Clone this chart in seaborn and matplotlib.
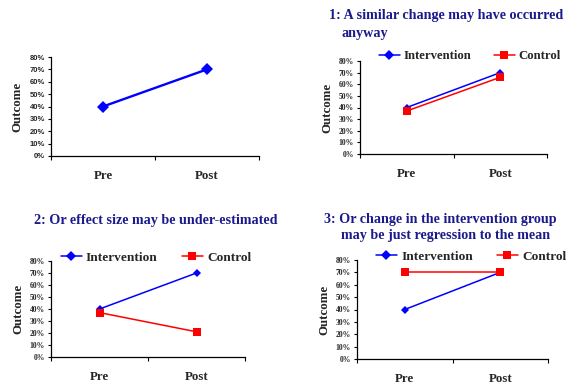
import matplotlib
matplotlib.use("Agg")
import matplotlib.pyplot as plt
import seaborn as sns
import pandas as pd
from matplotlib.ticker import FixedLocator, PercentFormatter

sns.set_theme(style="white")
plt.rcParams['font.family'] = ['Liberation Serif', 'DejaVu Serif']

times = ["Pre", "Post"]
groups = ["Intervention", "Control"]
p0_intervention = [40, 70]
p1_intervention = [40, 70]
p1_control = [37, 66]
p2_intervention = [40, 70]
p2_control = [37, 21]
p3_intervention = [40, 70]
p3_control = [70, 70]
yticks = [0, 10, 20, 30, 40, 50, 60, 70, 80]

titles = {
    1: ["1: A similar change may have occurred", "anyway"],
    2: ["2: Or effect size may be under-estimated"],
    3: ["3: Or change in the intervention group", "may be just regression to the mean"],
}

palette = {"Intervention": "#0000FF", "Control": "#FF0000"}
markers = {"Intervention": "D", "Control": "s"}
title_color = "#1a1a8c"

def make_df(series):
    rows = []
    for g, vals in series.items():
        for t, v in zip(times, vals):
            rows.append({"time": t, "value": v, "group": g})
    return pd.DataFrame(rows)

W, H = 568, 391
fig = plt.figure(figsize=(W / 100, H / 100), dpi=100)

def rect(l, r, t, b):
    return [l / W, 1 - b / H, (r - l) / W, (b - t) / H]

axes_rects = [
    rect(51, 259, 57, 156),
    rect(360, 547, 61, 154),
    rect(51, 245, 261, 357),
    rect(357, 548, 260, 359),
]
data_sets = [
    {"Intervention": p0_intervention},
    {"Intervention": p1_intervention, "Control": p1_control},
    {"Intervention": p2_intervention, "Control": p2_control},
    {"Intervention": p3_intervention, "Control": p3_control},
]
legend_pos = [None, (470, 56), (156, 258), (471, 257)]

for i, (r, ds) in enumerate(zip(axes_rects, data_sets)):
    ax = fig.add_axes(r)
    df = make_df(ds)
    lw = 1.7 if i == 0 else 1.1
    hue_order = [g for g in groups if g in ds]
    sns.lineplot(data=df, x="time", y="value", hue="group", style="group",
                 hue_order=hue_order, style_order=hue_order,
                 palette=palette, markers=markers, dashes=False,
                 linewidth=lw, markersize=(6.3 if i == 0 else 4.5),
                 markeredgewidth=0, ax=ax, legend=(i != 0))
    for line in ax.lines:
        if line.get_marker() == "s":
            line.set_markersize(5.2)
    ax.set_xlim(-0.5, 1.5)
    ax.set_ylim(0, 80)
    ax.yaxis.set_major_locator(FixedLocator(yticks))
    ax.yaxis.set_major_formatter(PercentFormatter(decimals=0))
    ax.set_xticks([0, 1])
    ax.set_xticklabels(times)
    ax.xaxis.set_minor_locator(FixedLocator([-0.5, 0.5, 1.5]))
    ax.tick_params(axis="x", which="major", length=0, pad=10, labelsize=9.3)
    ax.tick_params(axis="x", which="minor", length=3, width=0.8, direction="out", color="black", bottom=True)
    ax.tick_params(axis="y", which="major", length=2.5, width=0.8, direction="out", color="black", left=True, labelsize=5.5, pad=2)
    for lab in ax.get_xticklabels():
        lab.set_fontweight("bold")
    for lab in ax.get_yticklabels():
        lab.set_fontweight("bold")
        if i == 0:
            lab.set_family(["Liberation Sans", "DejaVu Sans"])
    ax.set_xlabel("")
    ax.set_ylabel("Outcome", fontsize=9.3, fontweight="bold", labelpad=4)
    for s in ["top", "right"]:
        ax.spines[s].set_visible(False)
    for s in ["left", "bottom"]:
        ax.spines[s].set_color("black")
        ax.spines[s].set_linewidth(0.9)
    ax.grid(False)
    if i != 0:
        cx, cy = legend_pos[i]
        leg = ax.legend(loc="center", bbox_to_anchor=(cx / W, 1 - cy / H),
                        bbox_transform=fig.transFigure, ncol=2, frameon=False,
                        handlelength=1.6, handletextpad=0.3, columnspacing=1.8,
                        borderaxespad=0, borderpad=0, markerscale=1.05,
                        prop={"weight": "bold", "size": 9.6 if i > 1 else 9.2})

# titles
fig.text(329 / W, 1 - 15 / H, titles[1][0], ha="left", va="center",
         fontsize=10.2, fontweight="bold", color=title_color)
fig.text(341 / W, 1 - 33 / H, titles[1][1], ha="left", va="center",
         fontsize=10.2, fontweight="bold", color=title_color)
fig.text(34 / W, 1 - 221 / H, titles[2][0], ha="left", va="center",
         fontsize=10.2, fontweight="bold", color=title_color)
fig.text(324 / W, 1 - 219 / H, titles[3][0], ha="left", va="center",
         fontsize=10.2, fontweight="bold", color=title_color)
fig.text(341 / W, 1 - 236 / H, titles[3][1], ha="left", va="center",
         fontsize=10.2, fontweight="bold", color=title_color)

fig.savefig("out.png", dpi=100, facecolor="white")
